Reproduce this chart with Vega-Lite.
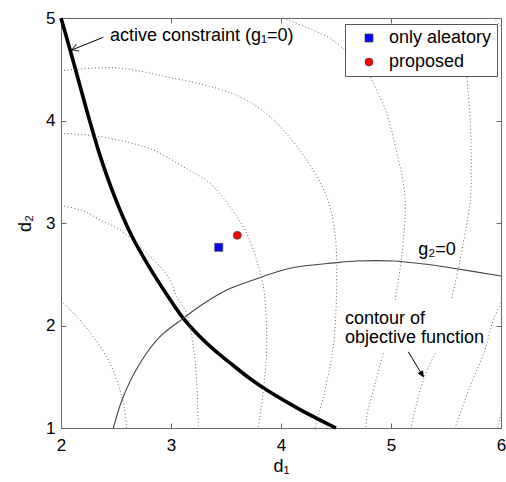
{
  "$schema": "https://vega.github.io/schema/vega-lite/v6.json",
  "width": 440,
  "height": 410,
  "autosize": {"type": "none"},
  "padding": {"left": 61, "top": 18, "right": 5, "bottom": 54},
  "background": "white",
  "config": {
    "font": "Liberation Sans",
    "view": {"stroke": "#666666", "strokeWidth": 1},
    "axis": {
      "grid": false,
      "domainColor": "#666666",
      "tickColor": "#666666",
      "labelColor": "black",
      "labelFont": "Liberation Sans",
      "labelFontSize": 17,
      "titleFont": "Liberation Sans",
      "titleFontSize": 18,
      "titleFontWeight": "normal",
      "titleColor": "black"
    }
  },
  "datasets": {
    "curves": [
      {"c": "g1", "d1": 2.0, "d2": 5.0},
      {"c": "g1", "d1": 2.09, "d2": 4.66},
      {"c": "g1", "d1": 2.175, "d2": 4.33},
      {"c": "g1", "d1": 2.26, "d2": 4.0},
      {"c": "g1", "d1": 2.36, "d2": 3.64},
      {"c": "g1", "d1": 2.49, "d2": 3.25},
      {"c": "g1", "d1": 2.64, "d2": 2.88},
      {"c": "g1", "d1": 2.8, "d2": 2.575},
      {"c": "g1", "d1": 2.975, "d2": 2.281},
      {"c": "g1", "d1": 3.112, "d2": 2.07},
      {"c": "g1", "d1": 3.264, "d2": 1.891},
      {"c": "g1", "d1": 3.4, "d2": 1.755},
      {"c": "g1", "d1": 3.566, "d2": 1.61},
      {"c": "g1", "d1": 3.72, "d2": 1.48},
      {"c": "g1", "d1": 3.87, "d2": 1.37},
      {"c": "g1", "d1": 4.173, "d2": 1.18},
      {"c": "g1", "d1": 4.5, "d2": 1.0},
      {"c": "g2", "d1": 2.476, "d2": 1.0},
      {"c": "g2", "d1": 2.566, "d2": 1.305},
      {"c": "g2", "d1": 2.718, "d2": 1.631},
      {"c": "g2", "d1": 2.9, "d2": 1.891},
      {"c": "g2", "d1": 3.112, "d2": 2.07},
      {"c": "g2", "d1": 3.264, "d2": 2.19},
      {"c": "g2", "d1": 3.506, "d2": 2.346},
      {"c": "g2", "d1": 3.748, "d2": 2.444},
      {"c": "g2", "d1": 4.082, "d2": 2.558},
      {"c": "g2", "d1": 4.506, "d2": 2.613},
      {"c": "g2", "d1": 4.688, "d2": 2.629},
      {"c": "g2", "d1": 5.021, "d2": 2.629},
      {"c": "g2", "d1": 5.3, "d2": 2.6},
      {"c": "g2", "d1": 5.536, "d2": 2.564},
      {"c": "g2", "d1": 6.0, "d2": 2.483},
      {"c": "A", "d1": 2.0, "d2": 4.483},
      {"c": "A", "d1": 2.485, "d2": 4.515},
      {"c": "A", "d1": 2.961, "d2": 4.427},
      {"c": "A", "d1": 3.415, "d2": 4.314},
      {"c": "A", "d1": 3.65, "d2": 4.22},
      {"c": "A", "d1": 3.85, "d2": 4.08},
      {"c": "A", "d1": 4.02, "d2": 3.907},
      {"c": "A", "d1": 4.234, "d2": 3.615},
      {"c": "A", "d1": 4.415, "d2": 3.257},
      {"c": "A", "d1": 4.49, "d2": 2.9},
      {"c": "A", "d1": 4.506, "d2": 2.444},
      {"c": "A", "d1": 4.475, "d2": 1.793},
      {"c": "A", "d1": 4.385, "d2": 1.305},
      {"c": "A", "d1": 4.309, "d2": 1.0},
      {"c": "B", "d1": 2.0, "d2": 3.875},
      {"c": "B", "d1": 2.3, "d2": 3.85},
      {"c": "B", "d1": 2.6, "d2": 3.79},
      {"c": "B", "d1": 2.839, "d2": 3.712},
      {"c": "B", "d1": 3.112, "d2": 3.549},
      {"c": "B", "d1": 3.355, "d2": 3.387},
      {"c": "B", "d1": 3.536, "d2": 3.159},
      {"c": "B", "d1": 3.688, "d2": 2.9},
      {"c": "B", "d1": 3.809, "d2": 2.525},
      {"c": "B", "d1": 3.85, "d2": 2.3},
      {"c": "B", "d1": 3.87, "d2": 1.79},
      {"c": "B", "d1": 3.84, "d2": 1.37},
      {"c": "B", "d1": 3.794, "d2": 1.0},
      {"c": "C", "d1": 2.0, "d2": 3.17},
      {"c": "C", "d1": 2.2, "d2": 3.12},
      {"c": "C", "d1": 2.355, "d2": 3.03},
      {"c": "C", "d1": 2.536, "d2": 2.932},
      {"c": "C", "d1": 2.718, "d2": 2.769},
      {"c": "C", "d1": 2.9, "d2": 2.574},
      {"c": "C", "d1": 2.991, "d2": 2.444},
      {"c": "C", "d1": 3.052, "d2": 2.281},
      {"c": "C", "d1": 3.143, "d2": 2.119},
      {"c": "C", "d1": 3.203, "d2": 1.793},
      {"c": "C", "d1": 3.233, "d2": 1.468},
      {"c": "C", "d1": 3.248, "d2": 1.0},
      {"c": "D", "d1": 2.0, "d2": 2.24},
      {"c": "D", "d1": 2.15, "d2": 2.08},
      {"c": "D", "d1": 2.294, "d2": 1.891},
      {"c": "D", "d1": 2.445, "d2": 1.631},
      {"c": "D", "d1": 2.536, "d2": 1.371},
      {"c": "D", "d1": 2.575, "d2": 1.2},
      {"c": "D", "d1": 2.597, "d2": 1.0},
      {"c": "E1", "d1": 4.02, "d2": 5.0},
      {"c": "E1", "d1": 4.25, "d2": 4.9},
      {"c": "E1", "d1": 4.445, "d2": 4.802},
      {"c": "E1", "d1": 4.58, "d2": 4.69},
      {"c": "E2", "d1": 4.8, "d2": 4.45},
      {"c": "E2", "d1": 4.95, "d2": 4.1},
      {"c": "E2", "d1": 5.05, "d2": 3.7},
      {"c": "E2", "d1": 5.127, "d2": 3.257},
      {"c": "E2", "d1": 5.097, "d2": 2.671},
      {"c": "E2", "d1": 5.036, "d2": 2.249},
      {"c": "E3", "d1": 4.93, "d2": 1.728},
      {"c": "E3", "d1": 4.86, "d2": 1.45},
      {"c": "E3", "d1": 4.779, "d2": 1.11},
      {"c": "E3", "d1": 4.773, "d2": 1.0},
      {"c": "F2", "d1": 5.688, "d2": 4.45},
      {"c": "F2", "d1": 5.72, "d2": 4.0},
      {"c": "F2", "d1": 5.73, "d2": 3.6},
      {"c": "F2", "d1": 5.72, "d2": 3.22},
      {"c": "F2", "d1": 5.627, "d2": 2.64},
      {"c": "F2", "d1": 5.552, "d2": 2.265},
      {"c": "F3", "d1": 5.4, "d2": 1.728},
      {"c": "F3", "d1": 5.294, "d2": 1.468},
      {"c": "F3", "d1": 5.18, "d2": 1.0},
      {"c": "G", "d1": 6.0, "d2": 2.217},
      {"c": "G", "d1": 5.93, "d2": 2.054},
      {"c": "G", "d1": 5.848, "d2": 1.744},
      {"c": "G", "d1": 5.718, "d2": 1.403},
      {"c": "G", "d1": 5.582, "d2": 1.0},
      {"c": "H", "d1": 6.0, "d2": 1.141},
      {"c": "H", "d1": 5.97, "d2": 1.0},
      {"c": "K", "d1": 5.93, "d2": 5.0},
      {"c": "K", "d1": 6.0, "d2": 4.92}
    ],
    "points": [
      {"s": "only aleatory", "d1": 3.434, "d2": 2.763},
      {"s": "proposed", "d1": 3.603, "d2": 2.88}
    ],
    "labels": [
      {"t": "active constraint (g₁=0)", "d1": 2.445, "d2": 4.779},
      {"t": "g₂=0", "d1": 5.248, "d2": 2.688},
      {"t": "contour of", "d1": 4.582, "d2": 2.012},
      {"t": "objective function", "d1": 4.582, "d2": 1.826}
    ],
    "arrows": [
      {"a": "a1", "d1": 2.385, "d2": 4.812, "e1": 2.097, "e2": 4.688},
      {"a": "a2", "d1": 5.157, "d2": 1.744, "e1": 5.294, "e2": 1.5}
    ]
  },
  "layer": [
    {
      "data": {"name": "curves"},
      "transform": [{"filter": "datum.c === 'g1'"}],
      "mark": {"type": "line", "color": "black", "strokeWidth": 3.6, "interpolate": "catmull-rom"},
      "encoding": {
        "x": {"field": "d1", "type": "quantitative", "scale": {"domain": [2, 6], "nice": false, "zero": false},
          "axis": {"orient": "bottom", "values": [2, 3, 4, 5, 6], "tickSize": -5, "labelPadding": 14, "title": "d₁", "titlePadding": 4, "labelFlush": false, "labelOverlap": false}},
        "y": {"field": "d2", "type": "quantitative", "scale": {"domain": [1, 5], "nice": false, "zero": false},
          "axis": {"orient": "left", "values": [1, 2, 3, 4, 5], "tickSize": -5, "labelPadding": 11, "title": "d₂", "titlePadding": 11, "labelFlush": false, "labelOverlap": false}},
        "order": {"value": null}
      }
    },
    {
      "data": {"name": "curves"},
      "transform": [{"filter": "datum.c === 'g2'"}],
      "mark": {"type": "line", "color": "#444444", "strokeWidth": 1.1, "interpolate": "catmull-rom"},
      "encoding": {
        "x": {"field": "d1", "type": "quantitative", "scale": {"domain": [2, 6], "nice": false, "zero": false},
          "axis": {"orient": "top", "values": [2, 3, 4, 5, 6], "tickSize": -5, "labels": false, "domain": false, "title": null}},
        "y": {"field": "d2", "type": "quantitative", "scale": {"domain": [1, 5], "nice": false, "zero": false},
          "axis": {"orient": "right", "values": [1, 2, 3, 4, 5], "tickSize": -5, "labels": false, "domain": false, "title": null}},
        "order": {"value": null}
      }
    },
    {
      "data": {"name": "curves"},
      "transform": [{"filter": "datum.c !== 'g1' && datum.c !== 'g2'"}],
      "mark": {"type": "line", "color": "#666666", "strokeWidth": 1, "strokeDash": [1, 2.4], "interpolate": "catmull-rom"},
      "encoding": {
        "x": {"field": "d1", "type": "quantitative", "axis": null},
        "y": {"field": "d2", "type": "quantitative", "axis": null},
        "detail": {"field": "c"},
        "order": {"value": null}
      }
    },
    {
      "data": {"name": "arrows"},
      "mark": {"type": "rule", "color": "black", "strokeWidth": 1},
      "encoding": {
        "x": {"field": "d1", "type": "quantitative", "axis": null},
        "y": {"field": "d2", "type": "quantitative", "axis": null},
        "x2": {"field": "e1"},
        "y2": {"field": "e2"}
      }
    },
    {
      "data": {"name": "arrows"},
      "transform": [{"filter": "datum.a === 'a1'"}],
      "mark": {"type": "point", "shape": "M-1,-0.55L0,0L-1,0.55", "filled": false, "stroke": "black", "strokeWidth": 1.2, "size": 180, "angle": 158},
      "encoding": {
        "x": {"field": "e1", "type": "quantitative", "axis": null},
        "y": {"field": "e2", "type": "quantitative", "axis": null}
      }
    },
    {
      "data": {"name": "arrows"},
      "transform": [{"filter": "datum.a === 'a2'"}],
      "mark": {"type": "point", "shape": "M-1,-0.45L0,0L-1,0.45Z", "filled": true, "fill": "black", "stroke": "black", "strokeWidth": 0.8, "size": 120, "angle": 59, "opacity": 1},
      "encoding": {
        "x": {"field": "e1", "type": "quantitative", "axis": null},
        "y": {"field": "e2", "type": "quantitative", "axis": null}
      }
    },
    {
      "data": {"name": "labels"},
      "mark": {"type": "text", "align": "left", "baseline": "alphabetic", "fontSize": 18, "font": "Liberation Sans", "color": "black"},
      "encoding": {
        "x": {"field": "d1", "type": "quantitative", "axis": null},
        "y": {"field": "d2", "type": "quantitative", "axis": null},
        "text": {"field": "t"}
      }
    },
    {
      "data": {"name": "points"},
      "mark": {"type": "point", "filled": true, "size": 64, "stroke": "#444444", "strokeWidth": 0.7, "opacity": 1},
      "encoding": {
        "x": {"field": "d1", "type": "quantitative", "axis": null},
        "y": {"field": "d2", "type": "quantitative", "axis": null},
        "color": {"field": "s", "type": "nominal",
          "scale": {"domain": ["only aleatory", "proposed"], "range": ["#0000ff", "#ff0000"]},
          "legend": {"title": null, "orient": "none", "legendX": 284, "legendY": 6, "padding": 5, "strokeColor": "#555555", "fillColor": "white", "cornerRadius": 0, "labelFontSize": 18, "labelFont": "Liberation Sans", "labelColor": "black", "symbolOffset": 10, "labelOffset": 11, "rowPadding": 6, "symbolSize": 64, "symbolStrokeColor": "#444444", "symbolStrokeWidth": 0.7}},
        "shape": {"field": "s", "type": "nominal",
          "scale": {"domain": ["only aleatory", "proposed"], "range": ["square", "circle"]},
          "legend": {"title": null, "orient": "none", "legendX": 284, "legendY": 6, "padding": 5, "strokeColor": "#555555", "fillColor": "white", "cornerRadius": 0, "labelFontSize": 18, "labelFont": "Liberation Sans", "labelColor": "black", "symbolOffset": 10, "labelOffset": 11, "rowPadding": 6, "symbolSize": 64, "symbolStrokeColor": "#444444", "symbolStrokeWidth": 0.7}}
      }
    }
  ],
  "resolve": {"axis": {"x": "independent", "y": "independent"}}
}
